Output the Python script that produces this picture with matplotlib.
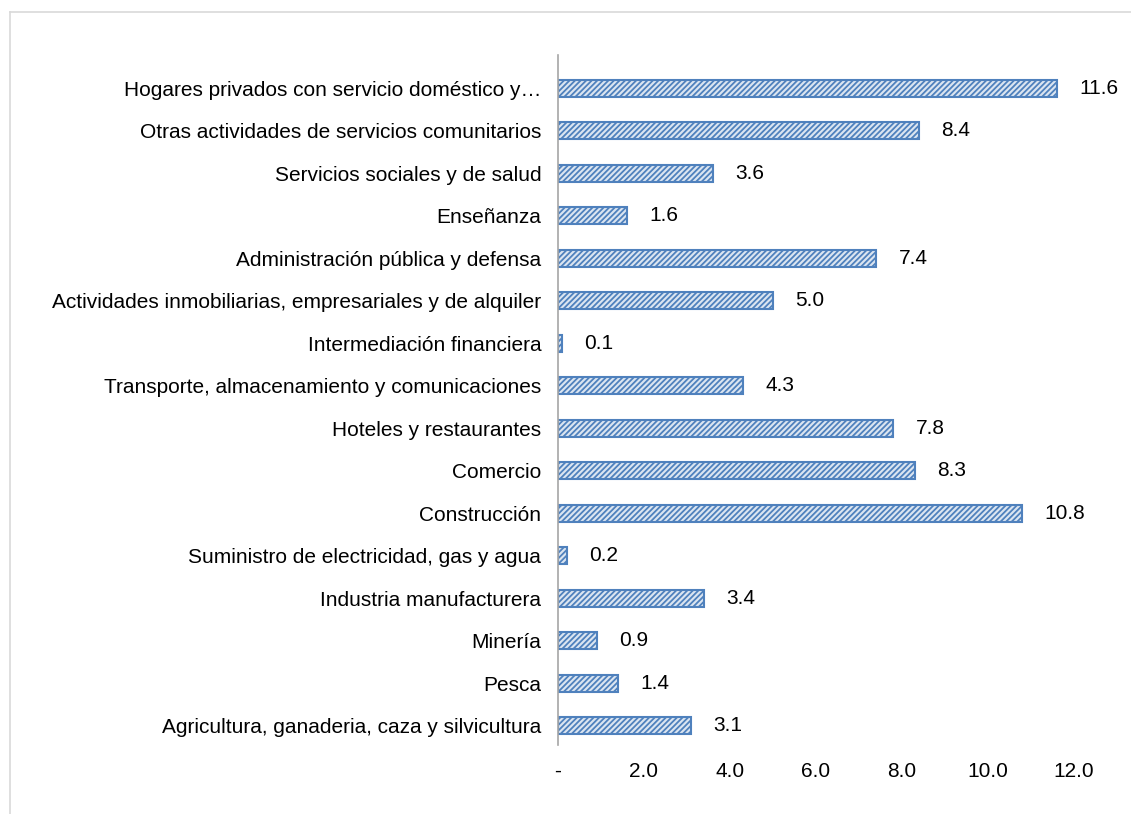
import matplotlib.pyplot as plt
from matplotlib.lines import Line2D

plt.rcParams['font.family'] = ['Liberation Sans', 'DejaVu Sans']
plt.rcParams['hatch.linewidth'] = 1.3

# bottom to top, as drawn
sectors = [
    "Agricultura, ganaderia, caza y silvicultura",
    "Pesca",
    "Minería",
    "Industria manufacturera",
    "Suministro de electricidad, gas y agua",
    "Construcción",
    "Comercio",
    "Hoteles y restaurantes",
    "Transporte, almacenamiento y comunicaciones",
    "Intermediación financiera",
    "Actividades inmobiliarias, empresariales y de alquiler",
    "Administración pública y defensa",
    "Enseñanza",
    "Servicios sociales y de salud",
    "Otras actividades de servicios comunitarios",
    "Hogares privados con servicio doméstico y…",
]
values = [3.1, 1.4, 0.9, 3.4, 0.2, 10.8, 8.3, 7.8, 4.3, 0.1, 5.0, 7.4, 1.6, 3.6, 8.4, 11.6]
xticks = [0, 2, 4, 6, 8, 10, 12]
xtick_labels = ["-", "2.0", "4.0", "6.0", "8.0", "10.0", "12.0"]

W, H = 1131, 814
FS = 15
fig = plt.figure(figsize=(W / 100, H / 100), dpi=100)
ax = fig.add_axes([558 / W, 1 - 745 / H, 516 / W, 690 / H])

ypos = list(range(len(sectors)))
ax.barh(ypos, values, height=0.4, color='#dbe5f1', edgecolor='#4f81bd',
        linewidth=1.5, hatch='//////')

for y, v in zip(ypos, values):
    ax.annotate(f"{v:.1f}", (v, y), xytext=(16, 0), textcoords='offset points',
                ha='left', va='center', fontsize=FS, color='black')

ax.set_xlim(0, 12)
ax.set_ylim(-0.45, 15.78)
ax.set_yticks(ypos)
ax.set_yticklabels(sectors, fontsize=FS)
ax.set_xticks(xticks)
ax.set_xticklabels(xtick_labels, fontsize=FS)
ax.tick_params(axis='y', length=0, pad=12)
ax.tick_params(axis='x', length=0, pad=12)

for s in ['top', 'right', 'bottom']:
    ax.spines[s].set_visible(False)
ax.spines['left'].set_color('#a6a6a6')
ax.spines['left'].set_linewidth(1.2)

# chart area border
x0, y0 = 10 / W, 1 - 12 / H
fig.add_artist(Line2D([x0, 1], [y0, y0], color='#d9d9d9', lw=1.2, transform=fig.transFigure))
fig.add_artist(Line2D([x0, x0], [y0, 0], color='#d9d9d9', lw=1.2, transform=fig.transFigure))

fig.savefig('out.png', dpi=100)
